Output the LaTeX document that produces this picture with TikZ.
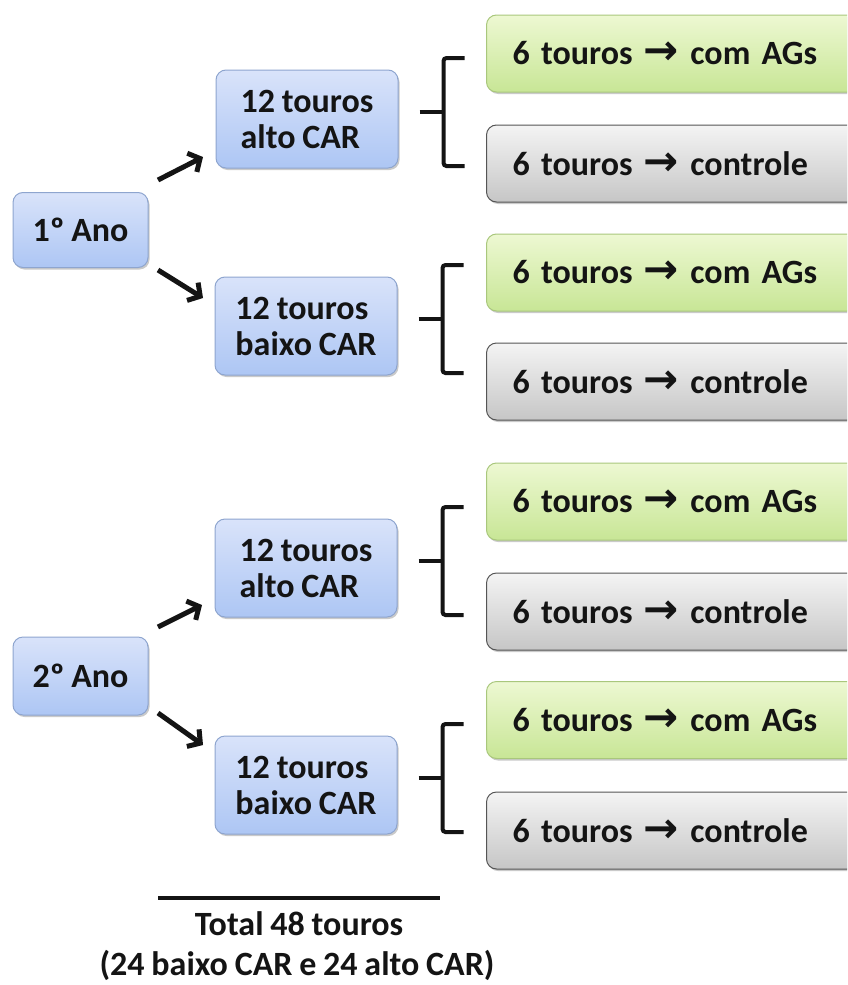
\documentclass[tikz,border=0pt]{standalone}
\usepackage{fontspec}
\setmainfont{Carlito}
\newfontfamily\arrowfont{DejaVu Sans}
\usetikzlibrary{arrows.meta,shadows,calc}
\definecolor{blueTop}{HTML}{D9E3FA}
\definecolor{blueMid}{HTML}{DDE6FB}
\definecolor{blueBot}{HTML}{ADC6F4}
\definecolor{blueBorder}{HTML}{8EA5CF}
\definecolor{greenTop}{HTML}{EDF8D2}
\definecolor{greenBot}{HTML}{C8E696}
\definecolor{greenBorder}{HTML}{A9C77C}
\definecolor{grayTop}{HTML}{F4F4F4}
\definecolor{grayBot}{HTML}{C6C6C6}
\definecolor{grayBorder}{HTML}{555555}
\definecolor{ink}{HTML}{141414}
\newcommand{\bigarrow}{{\arrowfont\fontsize{42}{36}\selectfont →}}
\newcommand{\diagfont}{\fontsize{34}{36}\selectfont\bfseries\spaceskip=6.8pt plus 2pt minus 1pt\relax}
\begin{document}
\begin{tikzpicture}[x=1pt,y=-1pt,
  font=\diagfont,
  boxbase/.style={line width=1pt, rounded corners=10pt, inner sep=0pt, text=ink,
    drop shadow={shadow xshift=1.5pt, shadow yshift=-2pt, opacity=0.35, fill=black!60}},
  bluebox/.style={boxbase, draw=blueBorder, top color=blueTop, middle color=blueMid, bottom color=blueBot, align=left},
  anobox/.style={bluebox, minimum width=135, minimum height=75},
  carbox/.style={bluebox, minimum width=182, minimum height=98},
  sidebox/.style={boxbase, anchor=west, minimum height=77, text width=332, inner xsep=26, align=left},
  greenbox/.style={sidebox, draw=greenBorder, top color=greenTop, bottom color=greenBot},
  graybox/.style={sidebox, draw=grayBorder, top color=grayTop, bottom color=grayBot},
  arr/.style={line width=5pt, draw=ink, -{Straight Barb[length=9pt,width=21pt]}},
  brk/.style={line width=4pt, draw=ink, rounded corners=3pt},
]
\useasboundingbox (0,0) rectangle (847,985);
\clip (0,0) rectangle (847,985);

% left column
\node[anobox] (ano1) at (80.5,230) {1º Ano};
\node[anobox, minimum height=78] (ano2) at (80.5,676) {2º Ano};

% middle column
\node[carbox] (alto1) at (307,119) {12 touros\\alto CAR};
\node[carbox] (baixo1) at (306,326) {12 touros\\baixo CAR};
\node[carbox] (alto2) at (306,568) {12 touros\\alto CAR};
\node[carbox] (baixo2) at (306,785) {12 touros\\baixo CAR};

% right column
\node[greenbox] (g1) at (486,53.5) {6 touros \bigarrow{} com AGs};
\node[graybox]  (c1) at (486,163.5) {6 touros \bigarrow{} controle};
\node[greenbox] (g2) at (486,272.5) {6 touros \bigarrow{} com AGs};
\node[graybox]  (c2) at (486,381.5) {6 touros \bigarrow{} controle};
\node[greenbox] (g3) at (486,501.5) {6 touros \bigarrow{} com AGs};
\node[graybox]  (c3) at (486,611.5) {6 touros \bigarrow{} controle};
\node[greenbox] (g4) at (486,720) {6 touros \bigarrow{} com AGs};
\node[graybox]  (c4) at (486,830.5) {6 touros \bigarrow{} controle};

% arrows
\draw[arr] ([shift={(77.5,-50)}]ano1.center) -- ([shift={(-104,38)}]alto1.center);
\draw[arr] ([shift={(77.5,40)}]ano1.center) -- ([shift={(-103,-28)}]baixo1.center);
\draw[arr] ([shift={(77.5,-49)}]ano2.center) -- ([shift={(-104,37)}]alto2.center);
\draw[arr] ([shift={(77.5,37)}]ano2.center) -- ([shift={(-103,-40)}]baixo2.center);

% brackets
\foreach \n in {alto1,baixo1,alto2,baixo2}{
  \draw[brk] ([shift={(66,-61)}]\n.east) -- ([shift={(45,-61)}]\n.east)
     -- ([shift={(45,47)}]\n.east) -- ([shift={(66,47)}]\n.east);
  \draw[brk] ([shift={(21,-7)}]\n.east) -- ([shift={(45,-7)}]\n.east);
}

% total
\coordinate (rl) at (158,898);
\coordinate (rr) at (440,898);
\draw[line width=4pt, draw=ink] (rl) -- (rr);
\node[anchor=base, text=ink, inner sep=0pt] (tot) at (299,935) {Total 48 touros};
\node[anchor=base, text=ink, inner sep=0pt] (sub) at (297,975) {(24 baixo CAR e 24 alto CAR)};
\end{tikzpicture}
\end{document}
